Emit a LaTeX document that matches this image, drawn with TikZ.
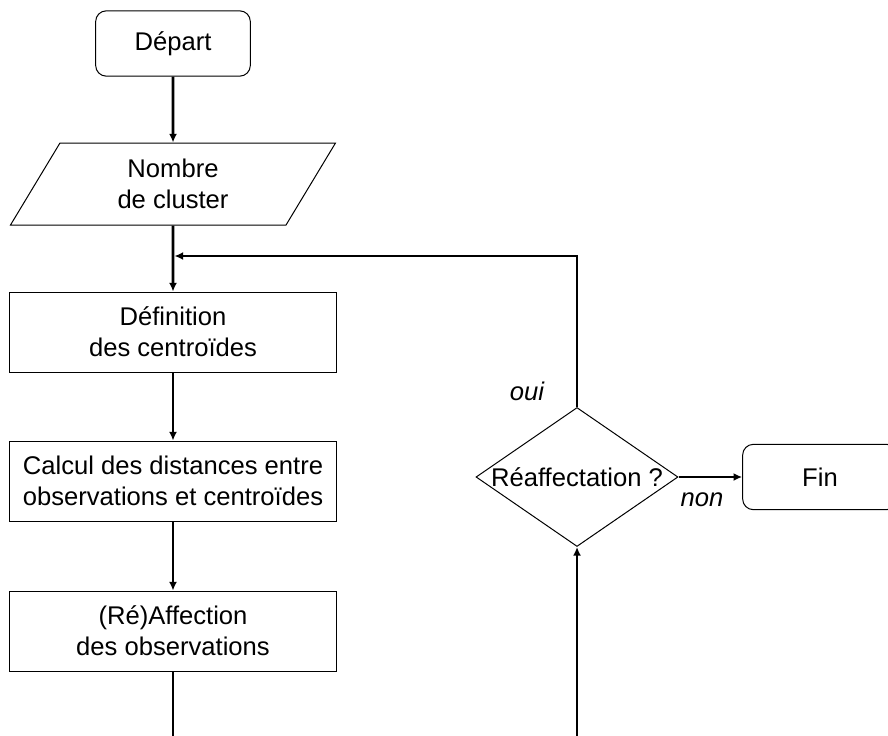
\documentclass[tikz,border=0pt]{standalone}
\usepackage{fontspec}
\setmainfont{Liberation Sans}
\usetikzlibrary{arrows.meta, shapes.geometric}
\tikzset{
  every picture/.style={font=\fontsize{19.2}{23}\selectfont, line width=0.75pt},
  box/.style={draw, align=center, inner sep=0pt, minimum width=245pt, minimum height=60pt},
  term/.style={draw, rounded corners=8pt, align=center, inner sep=0pt, minimum width=116pt, minimum height=49pt},
  io/.style={trapezium, trapezium left angle=45, trapezium right angle=135, trapezium stretches body,
    draw, align=center, inner sep=0pt, minimum width=243.75pt, minimum height=61.5pt},
  decision/.style={diamond, draw, inner sep=0pt, minimum width=151.5pt, minimum height=104.25pt},
  flow/.style={line width=1.9pt},
  arrow/.style={flow, -{Latex[length=6.5pt, width=6pt]}},
  answer/.style={font=\fontsize{19.2}{23}\selectfont\itshape},
}

\begin{document}
\begin{tikzpicture}[x=0.75pt, y=-0.75pt]
  \useasboundingbox (0,0) rectangle (888,735);
  \clip (0,0) rectangle (888,735);
  % left column
  \node[term] (depart) at (173,43.5) {Départ};
  \node[io] (nombre) at (173,184) {Nombre\\de cluster};
  \node[box] (defin) at (173,332) {Définition\\des centroïdes};
  \node[box] (calcul) at (173,481) {Calcul des distances entre\\observations et centroïdes};
  \node[box] (affect) at (173,631) {(Ré)Affection\\des observations};
  % right column
  \node[decision] (reaff) at (577,477) {\makebox[0pt]{Réaffectation ?}};
  \node[term] (fin) at (820,477) {Fin};
  \node[answer] (oui) at (527,391) {oui};
  \node[answer] (non) at (702,500) {non};
  \coordinate (merge) at (174.5,256);
  \coordinate (bas) at (173,745);
  \coordinate (remonte) at (577,745);
  % connectors
  \draw[arrow] (depart) -- (nombre);
  \draw[arrow] (nombre) -- (defin);
  \draw[arrow] (defin) -- (calcul);
  \draw[arrow] (calcul) -- (affect);
  \draw[flow] (affect) -- (bas);
  \draw[arrow] (remonte) -- (reaff);
  \draw[arrow] (reaff) -- (fin);
  \draw[arrow] (reaff.north) |- (merge);
\end{tikzpicture}
\end{document}
